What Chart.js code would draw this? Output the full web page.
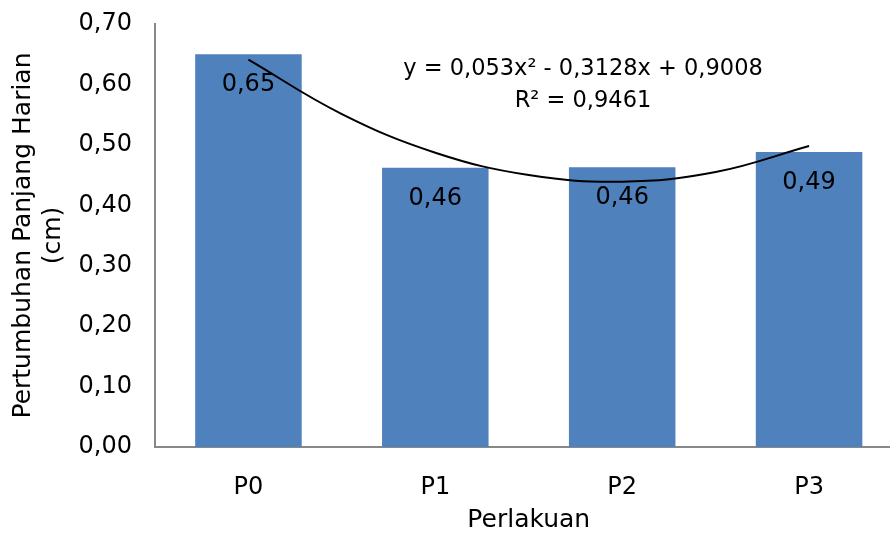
<!DOCTYPE html>
<html lang="id">
<head>
  <meta charset="UTF-8" />
  <title>Pertumbuhan Panjang Harian</title>
  <script src="https://cdn.jsdelivr.net/npm/chart.js"></script>
  <style>
    body {
      margin: 0;
      background: #fff;
      overflow: hidden;
    }
  </style>
</head>
<body>
  <canvas id="chart" width="910" height="539"></canvas>

  <script>
    const categories = ["P0", "P1", "P2", "P3"];
    const growth = [0.65, 0.462, 0.463, 0.488];

    // trendline (x = 1..4 matches P0..P3)
    const trendX = [1, 1.5, 2, 2.5, 3, 3.5, 4];
    const trendY = [0.641, 0.551, 0.487, 0.450, 0.439, 0.455, 0.498];

    const yTicks = [0, 0.1, 0.2, 0.3, 0.4, 0.5, 0.6, 0.7];
    const equation = ["y = 0,053x\u00B2 - 0,3128x + 0,9008", "R\u00B2 = 0,9461"];

    const FONT = "'DejaVu Sans', sans-serif";
    const fmt = v => v.toFixed(2).replace(".", ",");

    // value labels inside the bars + trendline equation
    const labelPlugin = {
      id: "labels",
      afterDatasetsDraw(chart) {
        const ctx = chart.ctx;
        const meta = chart.getDatasetMeta(0);
        ctx.save();
        ctx.fillStyle = "#000";
        ctx.textAlign = "center";
        ctx.textBaseline = "middle";
        ctx.font = "24px " + FONT;
        meta.data.forEach((bar, i) => {
          ctx.fillText(fmt(growth[i]), bar.x, bar.y + 31);
        });
        ctx.font = "22.5px " + FONT;
        ctx.fillText(equation[0], 583, 69);
        ctx.fillText(equation[1], 583, 101);
        ctx.restore();
      }
    };

    new Chart(document.getElementById("chart"), {
      data: {
        labels: categories,
        datasets: [
          {
            type: "bar",
            data: growth,
            backgroundColor: "#4F81BD",
            barPercentage: 0.57,
            categoryPercentage: 1,
            grouped: false,
            order: 2
          },
          {
            type: "line",
            xAxisID: "x2",
            data: trendX.map((x, i) => ({ x: x, y: trendY[i] })),
            borderColor: "#000",
            borderWidth: 2,
            pointRadius: 0,
            tension: 0.4,
            fill: false,
            order: 1
          }
        ]
      },
      plugins: [labelPlugin],
      options: {
        responsive: false,
        animation: false,
        layout: { padding: { top: 24, right: 7.5, left: 0, bottom: 0 } },
        plugins: {
          legend: { display: false },
          tooltip: { enabled: false }
        },
        scales: {
          x: {
            grid: { display: false },
            border: { display: true, color: "#888", width: 2 },
            ticks: { color: "#000", font: { family: FONT, size: 24 }, padding: 18 },
            title: {
              display: true,
              text: "Perlakuan",
              color: "#000",
              font: { family: FONT, size: 25 },
              padding: { top: 10 }
            },
            afterFit(scale) { scale.height = 92; }
          },
          x2: {
            type: "linear",
            display: false,
            min: 0.5,
            max: 4.5
          },
          y: {
            min: 0,
            max: 0.7,
            grid: { display: false },
            border: { display: true, color: "#888", width: 2 },
            afterBuildTicks(scale) {
              scale.ticks = yTicks.map(v => ({ value: v }));
            },
            ticks: {
              color: "#000",
              font: { family: FONT, size: 24 },
              padding: 15,
              callback: v => fmt(v)
            },
            title: {
              display: true,
              text: ["Pertumbuhan Panjang Harian", "(cm)"],
              color: "#000",
              font: { family: FONT, size: 25 },
              padding: { top: 8, bottom: 0 }
            },
            afterFit(scale) {
              scale.width = 155;
              scale.paddingTop = 0;
              scale.paddingBottom = 0;
            }
          }
        }
      }
    });
  </script>
</body>
</html>
